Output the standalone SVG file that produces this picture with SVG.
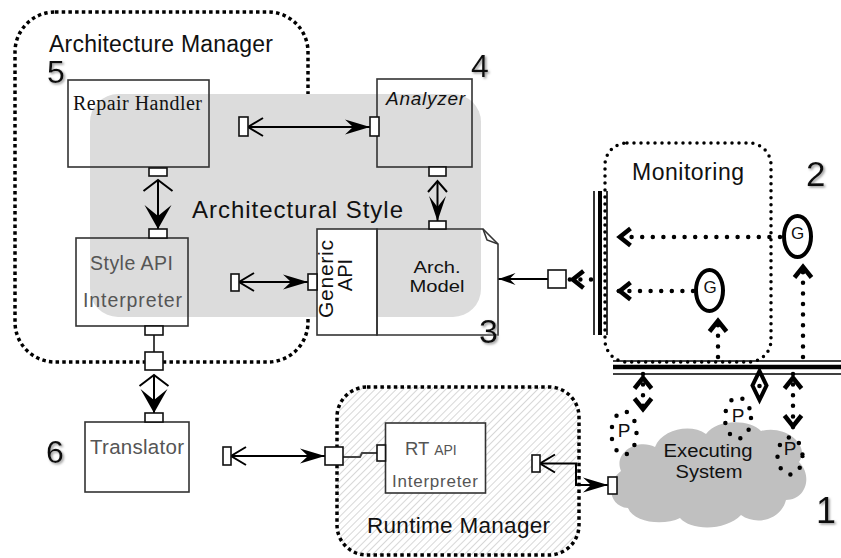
<svg xmlns="http://www.w3.org/2000/svg" width="841" height="558" viewBox="0 0 841 558">
<style>
.box{fill:none;stroke:#333;stroke-width:1.6}
.wbox{fill:#fff;stroke:#333;stroke-width:1.6}
.port{fill:#fff;stroke:#111;stroke-width:1.6}
.t{font-family:"Liberation Sans",Arial,sans-serif;fill:#111}
.tg{fill:#555}
.num{font-family:"Liberation Sans",Arial,sans-serif;fill:#111;filter:url(#sh)}
.conn{stroke:#000;stroke-width:2;fill:none}
.gline{stroke:#444;stroke-width:2;fill:none}
.dot{stroke:#000;stroke-width:4.5;stroke-linecap:round;stroke-dasharray:0 10.6;fill:none}
.pdot{stroke:#000;stroke-width:4.5;stroke-linecap:round;stroke-dasharray:0 12;fill:none}
.sqd{stroke:#000;stroke-width:3.5;stroke-dasharray:3.5 3.2;fill:none}
.rdd{stroke:#000;stroke-width:3.5;stroke-linecap:round;stroke-dasharray:0 7;fill:none}
</style>
<defs>
<filter id="sh" x="-20%" y="-20%" width="150%" height="150%">
<feDropShadow dx="1.5" dy="1.5" stdDeviation="0.8" flood-color="#999"/>
</filter>
<pattern id="hatch" patternUnits="userSpaceOnUse" width="5" height="5" patternTransform="rotate(45)">
<rect width="5" height="5" fill="#fff"/>
<line x1="0" y1="0" x2="0" y2="5" stroke="#b0b0b0" stroke-width="1"/>
</pattern>
<marker id="fh" markerUnits="userSpaceOnUse" markerWidth="32" markerHeight="20" viewBox="-30 -10 32 20" refX="0" refY="0" orient="auto">
<path d="M0,0 L-25,-7.5 L-17,0 L-25,7.5 Z" fill="#000"/>
</marker>
<marker id="fs" markerUnits="userSpaceOnUse" markerWidth="22" markerHeight="16" viewBox="-20 -8 22 16" refX="0" refY="0" orient="auto">
<path d="M0,0 L-17,-6 L-11,0 L-17,6 Z" fill="#000"/>
</marker>
<marker id="ch" markerUnits="userSpaceOnUse" markerWidth="22" markerHeight="24" viewBox="-18 -12 22 24" refX="0" refY="0" orient="auto-start-reverse">
<path d="M-15,-9 L0,0 L-15,9" fill="none" stroke="#000" stroke-width="2"/>
</marker>
<marker id="fv" markerUnits="userSpaceOnUse" markerWidth="30" markerHeight="32" viewBox="-28 -16 30 32" refX="0" refY="0" orient="auto">
<path d="M0,0 L-24,-13.5 L-13,0 L-24,13.5 Z" fill="#000"/>
</marker>
<marker id="cv" markerUnits="userSpaceOnUse" markerWidth="20" markerHeight="36" viewBox="-16 -18 20 36" refX="0" refY="0" orient="auto-start-reverse">
<path d="M-11,-14.5 L0,0 L-11,14.5" fill="none" stroke="#000" stroke-width="2"/>
</marker>
<marker id="fn" markerUnits="userSpaceOnUse" markerWidth="30" markerHeight="22" viewBox="-28 -11 30 22" refX="0" refY="0" orient="auto">
<path d="M0,0 L-25,-8.5 L-14,0 L-25,8.5 Z" fill="#000"/>
</marker>
<marker id="cn" markerUnits="userSpaceOnUse" markerWidth="20" markerHeight="24" viewBox="-16 -12 20 24" refX="0" refY="0" orient="auto-start-reverse">
<path d="M-11,-9.5 L0,0 L-11,9.5" fill="none" stroke="#000" stroke-width="2"/>
</marker>
<marker id="tc" markerUnits="userSpaceOnUse" markerWidth="24" markerHeight="26" viewBox="-20 -13 24 26" refX="0" refY="0" orient="auto-start-reverse">
<path d="M-14.5,-8.5 L-3.8,0 L-14.5,8.5" fill="none" stroke="#000" stroke-width="4.5"/>
</marker>
</defs>

<rect width="841" height="558" fill="#fff"/>

<g id="architecture-manager">
<rect class="sqd" x="15" y="12" width="293" height="350" rx="40"/>
<text class="t" x="49" y="52" font-size="23" textLength="224">Architecture Manager</text>
<text class="num" x="47" y="83" font-size="32">5</text>
</g>

<g id="architectural-style">
<rect x="90" y="94" width="391" height="223" rx="28" fill="#dcdcdc"/>
<text class="t" x="192" y="218" font-size="24" textLength="211">Architectural Style</text>
</g>

<g id="runtime-manager">
<rect x="337" y="387" width="242" height="168" rx="30" fill="url(#hatch)"/>
<rect class="sqd" x="337" y="387" width="242" height="168" rx="30"/>
<text class="t" x="367" y="533" font-size="22.5" textLength="183">Runtime Manager</text>
</g>

<g id="executing-system">
<path fill="#c0c0c0" d="M628,508 C608,506 606,482 621,471 C613,452 638,438 655,447 C662,429 691,423 706,434 C717,419 750,419 761,431 C786,424 811,446 799,462 C813,476 806,500 786,500 C781,520 756,526 741,515 C726,531 691,531 680,518 C664,526 634,523 628,508 Z"/>
<text class="t" x="708" y="457" font-size="18" text-anchor="middle" textLength="89" lengthAdjust="spacingAndGlyphs">Executing</text>
<text class="t" x="709" y="478" font-size="18" text-anchor="middle" textLength="67" lengthAdjust="spacingAndGlyphs">System</text>
<text class="num" x="816" y="523" font-size="36">1</text>
</g>

<g id="monitoring">
<rect class="rdd" x="605" y="143" width="166" height="219" rx="22"/>
<text class="t" x="632" y="180" font-size="23" textLength="112">Monitoring</text>
<text class="num" x="806" y="186" font-size="35">2</text>
</g>

<g id="bus-vertical">
<line x1="594" y1="191" x2="594" y2="335" stroke="#000" stroke-width="1.6"/>
<line x1="600" y1="191" x2="600" y2="335" stroke="#000" stroke-width="4"/>
<line x1="607" y1="191" x2="607" y2="335" stroke="#000" stroke-width="1.6"/>
</g>
<g id="bus-horizontal">
<line x1="613" y1="361" x2="841" y2="361" stroke="#000" stroke-width="1.6"/>
<line x1="613" y1="367" x2="841" y2="367" stroke="#000" stroke-width="4.5"/>
<line x1="613" y1="374" x2="841" y2="374" stroke="#000" stroke-width="1.6"/>
</g>

<g id="gauge-1">
<ellipse cx="797.5" cy="236.5" rx="13.5" ry="20.5" fill="none" stroke="#000" stroke-width="4"/>
<text class="t" x="797.5" y="239" font-size="17" text-anchor="middle">G</text>
</g>
<g id="gauge-2">
<ellipse cx="709.5" cy="290.5" rx="13.5" ry="20.5" fill="none" stroke="#000" stroke-width="4"/>
<text class="t" x="710" y="293" font-size="17" text-anchor="middle">G</text>
</g>

<g id="probe-1">
<ellipse class="pdot" cx="624" cy="433" rx="12.5" ry="21.5"/>
<text class="t" x="624" y="437" font-size="19" text-anchor="middle">P</text>
</g>
<g id="probe-2">
<ellipse class="pdot" cx="738" cy="418" rx="13" ry="20.5"/>
<text class="t" x="738" y="422" font-size="19" text-anchor="middle">P</text>
</g>
<g id="probe-3">
<ellipse class="pdot" cx="790" cy="456" rx="12.5" ry="18.5"/>
<text class="t" x="790" y="455" font-size="19" text-anchor="middle">P</text>
</g>

<g id="repair-handler">
<rect class="box" x="68" y="80" width="141" height="87"/>
<text x="73" y="110" font-family="'Liberation Serif','Times New Roman',serif" font-size="20" fill="#111" textLength="129">Repair Handler</text>
</g>

<g id="analyzer">
<rect class="box" x="377" y="79" width="95" height="88"/>
<text class="t" x="386" y="105" font-size="19" font-style="italic" textLength="79">Analyzer</text>
<text class="num" x="471" y="77" font-size="32">4</text>
</g>

<g id="style-api-interpreter">
<rect class="box" x="76" y="238" width="112" height="88"/>
<text class="t tg" x="90" y="270" font-size="19.5" textLength="83">Style API</text>
<text class="t tg" x="83" y="307" font-size="19.5" textLength="99">Interpreter</text>
</g>

<g id="arch-model">
<rect class="wbox" x="317" y="229" width="60" height="106"/>
<path class="box" d="M377,229 H483 L498,244 V335 H377 Z"/>
<path class="box" d="M483,229 L487,240 L498,244"/>
<text class="t" transform="translate(333,279) rotate(-90)" font-size="21" text-anchor="middle" textLength="78">Generic</text>
<text class="t" transform="translate(352,275) rotate(-90)" font-size="20" text-anchor="middle">API</text>
<text class="t" x="437" y="273" font-size="17" text-anchor="middle" textLength="47" lengthAdjust="spacingAndGlyphs">Arch.</text>
<text class="t" x="437" y="292" font-size="17" text-anchor="middle" textLength="55" lengthAdjust="spacingAndGlyphs">Model</text>
<text class="num" x="479" y="343" font-size="34">3</text>
</g>

<g id="translator">
<rect class="box" x="85" y="422" width="104" height="70"/>
<text class="t tg" x="90" y="454" font-size="20.5" textLength="94">Translator</text>
<text class="num" x="46" y="463" font-size="32">6</text>
</g>

<g id="rt-api-interpreter">
<rect class="wbox" x="385.5" y="423" width="100" height="70"/>
<text class="t tg" x="405" y="455"><tspan font-size="18.5">RT </tspan><tspan font-size="14">API</tspan></text>
<text class="t tg" x="392" y="487" font-size="17" textLength="86">Interpreter</text>
</g>

<g id="connectors">
<path class="conn" d="M158,180 V229" marker-start="url(#cv)" marker-end="url(#fv)"/>
<path class="conn" d="M437.5,181 V221" marker-start="url(#cn)" marker-end="url(#fn)"/>
<path class="gline" d="M154,335 V352"/>
<path class="conn" d="M154,375 V413" marker-start="url(#cv)" marker-end="url(#fv)"/>
<path class="conn" d="M248,127 H370" marker-start="url(#ch)" marker-end="url(#fh)"/>
<path class="conn" d="M239,282 H308" marker-start="url(#ch)" marker-end="url(#fh)"/>
<path class="conn" d="M231,456 H325" marker-start="url(#ch)" marker-end="url(#fh)"/>
<path class="gline" d="M343,457 H360 L362,453 H377"/>
<path class="conn" d="M540,463.5 H576 V485 H608" marker-start="url(#ch)" marker-end="url(#fh)"/>
<path class="conn" d="M548,279 H498.5" marker-end="url(#fs)"/>
<path class="dot" d="M591,279.5 H569" marker-end="url(#tc)"/>
<path class="dot" d="M780,237 H616" marker-end="url(#tc)"/>
<path class="dot" d="M693,291 H616" marker-end="url(#tc)"/>
<path class="dot" d="M718,357 V317" marker-end="url(#tc)"/>
<path class="dot" d="M803,357 V263" marker-end="url(#tc)"/>
<path class="dot" d="M643,374 V413" marker-start="url(#tc)" marker-end="url(#tc)"/>
<path class="dot" d="M793,374 V430" marker-start="url(#tc)" marker-end="url(#tc)"/>
<path d="M759.5,371 L766.5,385.5 L759.5,400 L752.5,385.5 Z" fill="none" stroke="#000" stroke-width="4"/>
<circle cx="759.5" cy="386" r="2.3" fill="#000"/>
</g>

<g id="ports">
<rect class="port" x="149" y="168" width="18" height="8"/>
<rect class="port" x="149" y="229" width="18" height="9"/>
<rect class="port" x="145" y="326" width="18" height="9"/>
<rect class="port" x="145" y="352" width="18" height="18"/>
<rect class="port" x="145" y="413" width="18" height="9"/>
<rect class="port" x="239" y="117" width="9" height="19"/>
<rect class="port" x="370" y="117" width="9" height="19"/>
<rect class="port" x="429" y="167" width="17" height="9"/>
<rect class="port" x="429" y="221" width="17" height="8"/>
<rect class="port" x="231" y="274" width="8" height="17"/>
<rect class="port" x="308" y="274" width="9" height="16"/>
<rect class="port" x="548" y="270" width="18" height="18"/>
<rect class="port" x="223" y="447" width="8" height="18"/>
<rect class="port" x="325" y="447" width="18" height="18"/>
<rect class="port" x="377" y="445" width="8.5" height="16"/>
<rect class="port" x="532" y="455" width="8" height="17"/>
<rect class="port" x="608" y="477" width="9" height="17"/>
</g>
</svg>
